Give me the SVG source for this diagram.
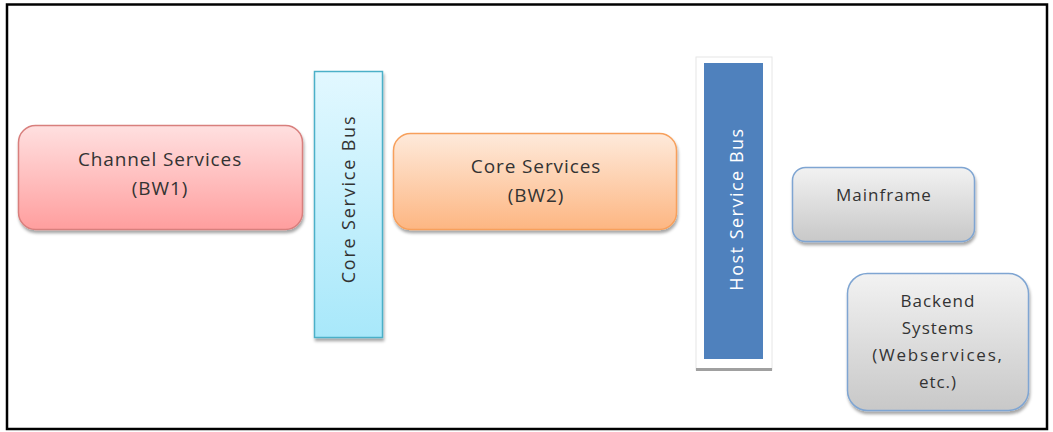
<svg xmlns="http://www.w3.org/2000/svg" width="1053" height="432" viewBox="0 0 1053 432">
<defs>
<linearGradient id="gRed" x1="0" y1="0" x2="0" y2="1"><stop offset="0" stop-color="#ffe0e0"/><stop offset="1" stop-color="#ff9e9e"/></linearGradient>
<linearGradient id="gBlue" x1="0" y1="0" x2="0" y2="1"><stop offset="0" stop-color="#e2f8ff"/><stop offset="1" stop-color="#a8e8fa"/></linearGradient>
<linearGradient id="gOr" x1="0" y1="0" x2="0" y2="1"><stop offset="0" stop-color="#feeadb"/><stop offset="1" stop-color="#fdb682"/></linearGradient>
<linearGradient id="gGray" x1="0" y1="0" x2="0" y2="1"><stop offset="0" stop-color="#f2f2f2"/><stop offset="1" stop-color="#c8c8c8"/></linearGradient>
<filter id="sh" x="-10%" y="-10%" width="120%" height="130%"><feDropShadow dx="1" dy="3" stdDeviation="1.5" flood-color="#000" flood-opacity="0.35"/></filter>
</defs>
<style>
text{font-family:"Open Sans","Liberation Sans",sans-serif;fill:#333;text-anchor:middle}
.t18{font-size:19px;letter-spacing:0.9px}
.t16{font-size:17px;letter-spacing:1px}
</style>
<rect x="7" y="4.5" width="1040" height="424.5" fill="#fff" stroke="#000" stroke-width="2.5"/>
<g id="channel-services">
<rect x="18.5" y="125.5" width="284" height="104" rx="17" fill="url(#gRed)" stroke="#d87f7d" stroke-width="1.5" filter="url(#sh)"/>
<text class="t18" x="160" y="166">Channel Services</text>
<text class="t18" x="160" y="195">(BW1)</text>
</g>
<g id="core-service-bus">
<rect x="314.5" y="71.5" width="68" height="266" fill="url(#gBlue)" stroke="#4cb0c8" stroke-width="1.5" filter="url(#sh)"/>
<text transform="translate(355,199) rotate(-90)" style="font-size:18px;letter-spacing:1.8px">Core Service Bus</text>
</g>
<g id="core-services">
<rect x="393.5" y="133.5" width="283" height="96" rx="17" fill="url(#gOr)" stroke="#f7a05c" stroke-width="1.5" filter="url(#sh)"/>
<text class="t18" x="536" y="173">Core Services</text>
<text class="t18" x="536" y="202">(BW2)</text>
</g>
<g id="host-service-bus">
<rect x="696" y="57" width="76" height="313" fill="#fff" stroke="#e6e6e6" stroke-width="1"/>
<rect x="696" y="368" width="76" height="3" fill="#a0a0a0"/>
<rect x="704" y="63" width="59" height="296" fill="#4f81bd"/>
<text transform="translate(743,209) rotate(-90)" style="fill:#fff;font-size:18px;letter-spacing:1.5px">Host  Service  Bus</text>
</g>
<g id="mainframe">
<rect x="792.5" y="167.5" width="182" height="74" rx="13" fill="url(#gGray)" stroke="#7fa5d2" stroke-width="1.5" filter="url(#sh)"/>
<text class="t16" x="884" y="201">Mainframe</text>
</g>
<g id="backend-systems">
<rect x="847.5" y="273.5" width="181" height="137" rx="20" fill="url(#gGray)" stroke="#7fa5d2" stroke-width="1.5" filter="url(#sh)"/>
<text class="t16" x="938" y="307">Backend</text>
<text class="t16" x="938" y="334">Systems</text>
<text class="t16" x="938" y="361" style="letter-spacing:1.8px">(Webservices,</text>
<text class="t16" x="938" y="388">etc.)</text>
</g>
<g id="connectors"/>
</svg>
